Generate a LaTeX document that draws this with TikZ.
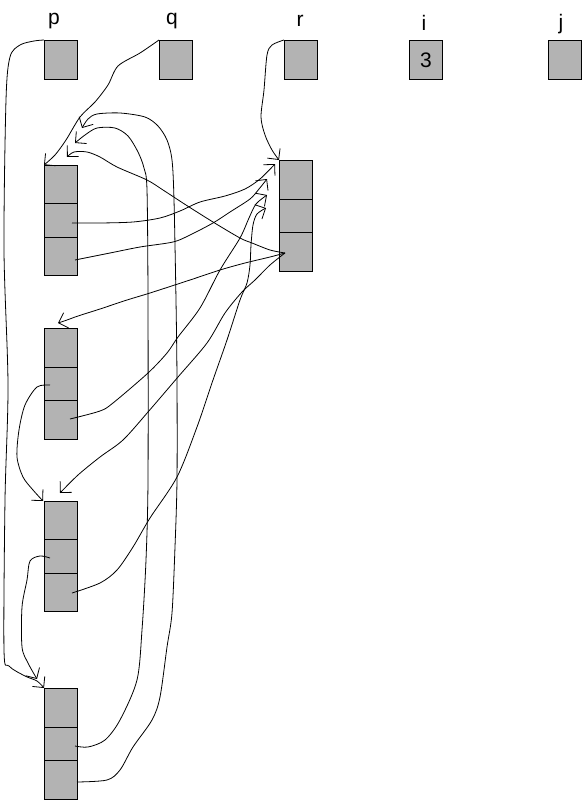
\documentclass[tikz,border=0pt]{standalone}
\usepackage{fontspec}
\setmainfont{Liberation Sans}
\usetikzlibrary{arrows.meta}
\definecolor{boxgray}{RGB}{179,179,179}
\begin{document}
\begin{tikzpicture}[x=1pt,y=-1pt,
  cell/.style={draw=black, fill=boxgray, line width=0.9pt, minimum width=33pt, inner sep=0pt, anchor=north west},
  lbl/.style={font=\fontsize{21}{25}\selectfont, anchor=base, inner sep=0pt},
  ptr/.style={draw=black, line width=0.8pt, -{Straight Barb[length=8pt,width=16pt]}},
]
\useasboundingbox (0,0) rectangle (581,800);
% top variables
\node[cell, minimum height=39pt] (p) at (44,40) {};
\node[cell, minimum height=39pt] (q) at (159,40) {};
\node[cell, minimum height=39pt] (r) at (284,40) {};
\node[cell, minimum height=39pt, font=\fontsize{21}{25}\selectfont] (i) at (409,40) {3};
\node[cell, minimum height=39pt] (j) at (548,40) {};
\node[lbl] (lp) at (54,25) {p};
\node[lbl] (lq) at (172,25) {q};
\node[lbl] (lr) at (300,27) {r};
\node[lbl] (li) at (424,31) {i};
\node[lbl] (lj) at (561,30) {j};
% block A
\node[cell, minimum height=38pt] (A1) at (44,165) {};
\node[cell, minimum height=34pt] (A2) at (44,203) {};
\node[cell, minimum height=38pt] (A3) at (44,237) {};
% block R
\node[cell, minimum height=39pt] (R1) at (279,160) {};
\node[cell, minimum height=33pt] (R2) at (279,199) {};
\node[cell, minimum height=39pt] (R3) at (279,232) {};
% block B
\node[cell, minimum height=39pt] (B1) at (44,328) {};
\node[cell, minimum height=33pt] (B2) at (44,367) {};
\node[cell, minimum height=39pt] (B3) at (44,400) {};
% block C
\node[cell, minimum height=38pt] (C1) at (44,501) {};
\node[cell, minimum height=34pt] (C2) at (44,539) {};
\node[cell, minimum height=38pt] (C3) at (44,573) {};
% block D
\node[cell, minimum height=39pt] (D1) at (44,688) {};
\node[cell, minimum height=33pt] (D2) at (44,727) {};
\node[cell, minimum height=39pt] (D3) at (44,760) {};
% start points inside cells
\coordinate (A2s) at (72,223);
\coordinate (A3s) at (75,260);
\coordinate (B2s) at (50,385);
\coordinate (B3s) at (70,419);
\coordinate (C2s) at (50,558);
\coordinate (C3s) at (72,593);
\coordinate (D2s) at (75,746);
\coordinate (D3s) at (77,782);
\coordinate (R3s) at (285,253);
% arrow tips
\coordinate (tA1a) at (82,128);
\coordinate (tA1b) at (75,143);
\coordinate (tA1c) at (67,157);
\coordinate (tR1a) at (275,164);
\coordinate (tR1b) at (267,179);
\coordinate (tR1c) at (267,195);
\coordinate (tR1d) at (266,208);
\coordinate (tB1) at (58,323);
\coordinate (tC1a) at (60,493);
\coordinate (tC1b) at (43,501);
\coordinate (tD1) at (37,679);
% pointers
\draw[ptr] plot[smooth] coordinates {(p.north west) (34,41) (20,45) (10,57) (6,100) (4,250) (8,385) (5,500) (4,650) (9,666) (25,676) (37,681) (D1.north west)};
\draw[ptr] plot[smooth] coordinates {(q.north west) (140,53) (118,66) (108,85) (95,102) (80,117) (66,140) (55,155) (A1.north west)};
\draw[ptr] plot[smooth] coordinates {(r.north west) (272,45) (267,55) (264,90) (261,117) (265,135) (272,150) (R1.north west)};
\draw[ptr] plot[smooth] coordinates {(D2s) (88,747) (105,740) (120,720) (137,680) (142,630) (146,560) (148,480) (148,300) (147,190) (144,168) (138,152) (128,136) (115,128) (97,128) (85,135) (tA1b)};
\draw[ptr] plot[smooth] coordinates {(D3s) (107,780) (120,770) (133,747) (152,720) (160,697) (167,647) (172,613) (175,547) (177,480) (177,380) (176,300) (174,200) (172,160) (167,140) (158,126) (145,117) (120,113) (97,114) (88,119) (tA1a)};
\draw[ptr] plot[smooth] coordinates {(R3s) (270,250) (252,243) (240,238) (213,222) (186,205) (163,190) (147,180) (117,167) (100,157) (87,152) (74,152) (tA1c)};
\draw[ptr] plot[smooth] coordinates {(A2s) (100,223) (133,222) (160,218) (180,211) (200,202) (225,196) (245,189) (260,179) (tR1a)};
\draw[ptr] plot[smooth] coordinates {(A3s) (110,253) (140,247) (173,242) (190,235) (213,223) (230,212) (250,199) (259,189) (tR1b)};
\draw[ptr] plot[smooth] coordinates {(B3s) (100,411) (113,403) (148,373) (167,353) (178,337) (200,308) (220,270) (240,238) (249,218) (256,204) (tR1c)};
\draw[ptr] plot[smooth] coordinates {(C3s) (100,583) (117,570) (133,547) (150,518) (177,477) (197,427) (213,380) (227,340) (240,300) (247,283) (250,265) (251,245) (253,225) (257,214) (tR1d)};
\draw[ptr] plot[smooth] coordinates {(R3s) (270,257) (245,263) (220,270) (190,280) (150,293) (127,300) (100,309) (78,316) (67,320) (tB1)};
\draw[ptr] plot[smooth] coordinates {(R3s) (270,265) (255,280) (242,292) (225,313) (207,343) (178,377) (148,412) (123,440) (100,457) (78,475) (tC1a)};
\draw[ptr] plot[smooth] coordinates {(B2s) (37,387) (25,405) (19,430) (17,457) (23,477) (33,490) (tC1b)};
\draw[ptr] plot[smooth] coordinates {(C2s) (40,556) (30,561) (27,580) (22,607) (22,647) (28,663) (tD1)};
\end{tikzpicture}
\end{document}
